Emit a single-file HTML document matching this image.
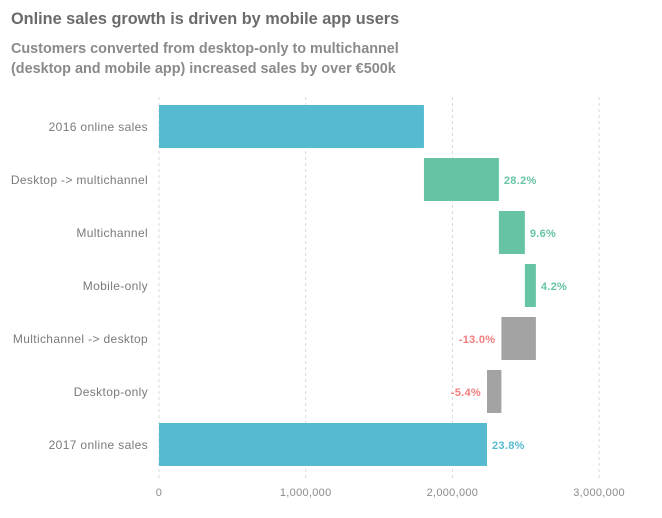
<!DOCTYPE html>
<html><head><meta charset="utf-8"><style>
body{margin:0;background:#fff;width:662px;height:513px;overflow:hidden;font-family:"Liberation Sans",sans-serif}
</style></head><body>
<svg id="chart" width="662" height="513" xmlns="http://www.w3.org/2000/svg">
<text x="11" y="24" font-size="16.3" font-weight="bold" fill="#6b6b6b">Online sales growth is driven by mobile app users</text>
<text x="11" y="53" font-size="14.4" font-weight="bold" fill="#8a8a8a">Customers converted from desktop-only to multichannel</text>
<text x="11" y="73" font-size="14.4" font-weight="bold" fill="#8a8a8a">(desktop and mobile app) increased sales by over €500k</text>
<g id="grid"></g><g id="bars"></g><g id="labels"></g>
</svg>
<script>
const categories=["2016 online sales","Desktop -> multichannel ","Multichannel","Mobile-only","Multichannel -> desktop","Desktop-only","2017 online sales"];
const deltas=[1806000,511000,177000,75000,-235000,-98000,2236000];
const kinds=["total","up","up","up","down","down","total"];
const pctLabels=["","28.2%","9.6%","4.2%","-13.0%","-5.4%","23.8%"];
const ticks=[0,1000000,2000000,3000000];
const tickLabels=["0","1,000,000","2,000,000","3,000,000"];
const NS="http://www.w3.org/2000/svg";
const x=v=>159+v*146.7/1000000;
const rowTop=i=>105+i*53;
const colors={total:"#56bbd1",up:"#66c4a4",down:"#a3a3a3"};
const txtColors={total:"#56bbd1",up:"#66c4a4",down:"#f47c7c"};
function mk(t,a,p){const e=document.createElementNS(NS,t);for(const k in a)e.setAttribute(k,a[k]);document.getElementById(p).appendChild(e);return e;}
ticks.forEach((t,i)=>{
 const l=mk("line",{x1:x(t),x2:x(t),y1:97,y2:478,stroke:"#d9d9d9","stroke-dasharray":"3,3"},"grid");
 
 
 const tx=mk("text",{x:x(t),y:496,"font-size":11,fill:"#8a8a8a","text-anchor":"middle","letter-spacing":"0.3"},"labels");
 tx.textContent=tickLabels[i];
 
 
});
let run=0;
categories.forEach((c,i)=>{
 let a,b;
 if(kinds[i]==="total"){a=0;b=deltas[i];run=deltas[i];}
 else{a=run;b=run+deltas[i];run=b;}
 const x0=x(Math.min(a,b)),x1=x(Math.max(a,b));
 const r=mk("rect",{x:x0,y:rowTop(i),width:x1-x0,height:43,fill:colors[kinds[i]]},"bars");
 
 
 const cl=mk("text",{x:148,y:rowTop(i)+26,"font-size":12,fill:"#7a7a7a","text-anchor":"end","letter-spacing":"0.35"},"labels");
 cl.textContent=c;
 
 
 if(pctLabels[i]){
  const down=kinds[i]==="down";
  const pl=mk("text",{x:down?x0-6:x1+5,y:rowTop(i)+26,"font-size":11,"font-weight":"bold",fill:txtColors[kinds[i]],"text-anchor":down?"end":"start","letter-spacing":"0.3"},"labels");
  pl.textContent=pctLabels[i];
  
  
 }
});
</script>
</body></html>
